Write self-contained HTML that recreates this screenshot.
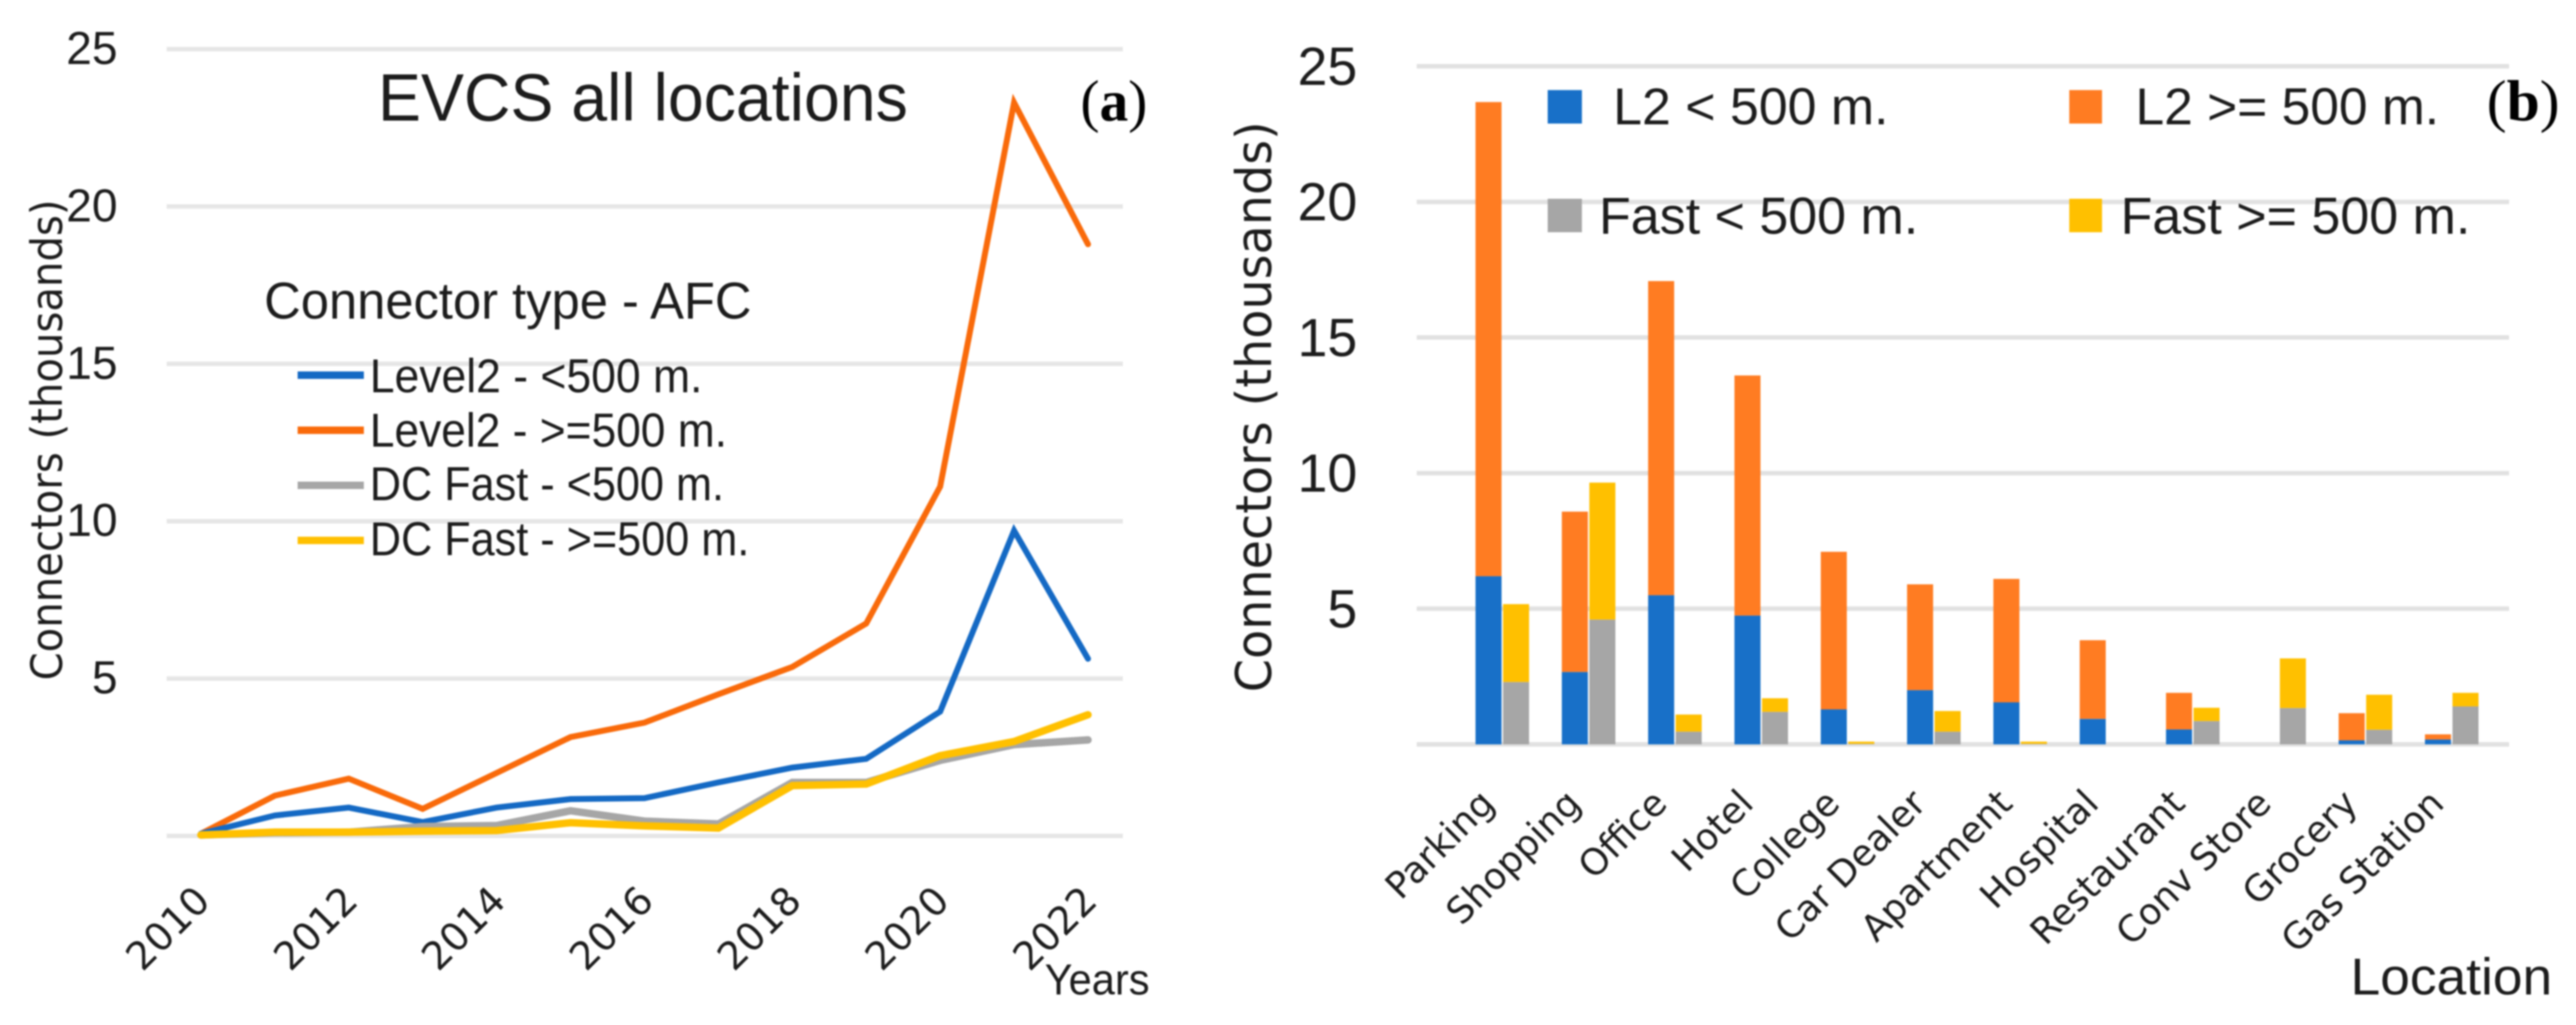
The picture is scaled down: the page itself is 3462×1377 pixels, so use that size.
<!DOCTYPE html>
<html lang="en">
<head>
<meta charset="utf-8">
<title>EVCS connectors charts</title>
<style>
html,body{margin:0;padding:0;background:#fff;width:3462px;height:1377px;overflow:hidden}
svg{display:block;filter:blur(1.1px)}
text{fill:#1c1c1c}
.s{font-family:"Liberation Sans",sans-serif}
.d{font-family:"DejaVu Sans",sans-serif}
.r{font-family:"Liberation Serif",serif;fill:#000}
</style>
</head>
<body>
<svg id="chart" xmlns="http://www.w3.org/2000/svg" width="3462" height="1377" viewBox="0 0 3462 1377">
  <rect width="3462" height="1377" fill="#fff"/>
  <g id="panelA"></g>
  <g id="panelB"></g>

  <text class="s" x="508" y="162" font-size="90" textLength="712" lengthAdjust="spacingAndGlyphs">EVCS all locations</text>
  <text class="r" x="1452" y="162" font-size="78" textLength="90" lengthAdjust="spacingAndGlyphs">(<tspan font-weight="bold">a</tspan>)</text>
  <text class="d" transform="translate(83,914) rotate(-90)" font-size="58" textLength="646" lengthAdjust="spacingAndGlyphs">Connectors  (thousands)</text>
  <text class="s" x="1404" y="1336" font-size="58" textLength="141" lengthAdjust="spacingAndGlyphs">Years</text>

  <g>
    <text class="s" x="355" y="428" font-size="70" textLength="655" lengthAdjust="spacingAndGlyphs">Connector type - AFC</text>
    <line x1="400" x2="489" y1="504" y2="504" stroke="#1469c4" stroke-width="10"/>
    <text class="s" x="497" y="527" font-size="64" textLength="447" lengthAdjust="spacingAndGlyphs">Level2 - &lt;500 m.</text>
    <line x1="400" x2="489" y1="578" y2="578" stroke="#f96a0a" stroke-width="10"/>
    <text class="s" x="497" y="600" font-size="64" textLength="480" lengthAdjust="spacingAndGlyphs">Level2 - &gt;=500 m.</text>
    <line x1="400" x2="489" y1="652" y2="652" stroke="#a6a6a6" stroke-width="10"/>
    <text class="s" x="497" y="672" font-size="64" textLength="476" lengthAdjust="spacingAndGlyphs">DC Fast - &lt;500 m.</text>
    <line x1="400" x2="489" y1="726" y2="726" stroke="#ffc000" stroke-width="10"/>
    <text class="s" x="497" y="746" font-size="64" textLength="510" lengthAdjust="spacingAndGlyphs">DC Fast - &gt;=500 m.</text>
  </g>

  <text class="r" x="3342" y="162" font-size="78" textLength="98" lengthAdjust="spacingAndGlyphs">(<tspan font-weight="bold">b</tspan>)</text>
  <text class="d" transform="translate(1708,930) rotate(-90)" font-size="66" textLength="767" lengthAdjust="spacingAndGlyphs">Connectors  (thousands)</text>
  <text class="s" x="3159" y="1336" font-size="70" textLength="271" lengthAdjust="spacingAndGlyphs">Location</text>

  <g>
    <rect x="2080" y="121" width="46" height="45" fill="#1870c8"/>
    <text class="s" x="2168" y="167" font-size="70" textLength="370" lengthAdjust="spacingAndGlyphs">L2 &lt; 500 m.</text>
    <rect x="2781" y="121" width="44" height="45" fill="#ff7c22"/>
    <text class="s" x="2870" y="167" font-size="70" textLength="408" lengthAdjust="spacingAndGlyphs">L2 &gt;= 500 m.</text>
    <rect x="2080" y="267" width="46" height="45" fill="#a6a6a6"/>
    <text class="s" x="2149" y="314" font-size="70" textLength="429" lengthAdjust="spacingAndGlyphs">Fast &lt; 500 m.</text>
    <rect x="2781" y="267" width="44" height="45" fill="#ffc000"/>
    <text class="s" x="2850" y="314" font-size="70" textLength="470" lengthAdjust="spacingAndGlyphs">Fast &gt;= 500 m.</text>
  </g>
</svg>
<script>
// Panel (a) data
const years = [2010,2011,2012,2013,2014,2015,2016,2017,2018,2019,2020,2021,2022];
const yearTickLabels = ["2010","2012","2014","2016","2018","2020","2022"];
const yTickValues = [0,5,10,15,20,25];
const level2Near = [0.07,0.65,0.9,0.44,0.9,1.17,1.2,1.7,2.17,2.45,3.95,9.7,5.63];
const level2Far = [0.07,1.28,1.82,0.86,2.0,3.14,3.6,4.5,5.37,6.75,11.1,23.3,18.8];
const fastNear = [0.03,0.1,0.12,0.3,0.33,0.8,0.47,0.38,1.7,1.7,2.4,2.9,3.05];
const fastFar = [0.03,0.12,0.12,0.15,0.17,0.42,0.32,0.25,1.6,1.65,2.55,3.0,3.85];

// Panel (b) data
const locations = ["Parking","Shopping","Office","Hotel","College","Car Dealer","Apartment","Hospital","Restaurant","Conv Store","Grocery","Gas Station"];
const l2NearByLocation = [6.2,2.67,5.5,4.75,1.29,2.0,1.55,0.94,0.55,0,0.15,0.18];
const l2FarByLocation = [17.48,5.91,11.58,8.85,5.81,3.9,4.55,2.9,1.35,0,1.0,0.19];
const fastNearByLocation = [2.3,4.6,0.47,1.2,0.02,0.47,0.02,0,0.86,1.34,0.54,1.4];
const fastFarByLocation = [2.87,5.05,0.63,0.5,0.08,0.76,0.08,0,0.49,1.83,1.29,0.5];

const NS = "http://www.w3.org/2000/svg";
function mk(tag, parent, attrs, text){
  const el = document.createElementNS(NS, tag);
  for (const k in attrs) el.setAttribute(k, attrs[k]);
  if (text !== undefined) el.textContent = text;
  parent.appendChild(el);
  return el;
}

// axis functions, panel (a)
const xA = y => 270 + (y - years[0]) * 99.35;
const yA = v => 1123 - v * 42.28;
// axis functions, panel (b)
const groupB = i => 1983 + i * 116;
const yB = v => 1000 - v * 36.44;

const panelA = document.getElementById("panelA");
const panelB = document.getElementById("panelB");

yTickValues.forEach(v => {
  const g = mk("line", panelA, {x1:224, x2:1509, y1:yA(v), y2:yA(v), stroke:"#e6e6e6", "stroke-width":6});
  
  
  if (v > 0) {
    const t = mk("text", panelA, {x:158, y:yA(v)+20, "text-anchor":"end", "font-size":62, "class":"s"}, String(v));
    
    
  }
  const g2 = mk("line", panelB, {x1:1904, x2:3372, y1:yB(v), y2:yB(v), stroke:"#e1e1e1", "stroke-width":6});
  
  
  if (v > 0) {
    const t2 = mk("text", panelB, {x:1824, y:yB(v)+25, "text-anchor":"end", "font-size":72, "class":"s"}, String(v));
    
    
  }
});

yearTickLabels.forEach(lbl => {
  const bx = xA(+lbl) + 15;
  const t = mk("text", panelA, {transform:`translate(${bx},1213) rotate(-45)`, "text-anchor":"end", "font-size":52, "class":"d"}, lbl);
  
  
});

function linePath(values, color, name, w){
  const pts = values.map((v,i) => xA(years[i]) + "," + yA(v)).join(" ");
  const p = mk("polyline", panelA, {points:pts, fill:"none", stroke:color, "stroke-width":w, "stroke-linejoin":"miter", "stroke-linecap":"round"});
  
  
}
linePath(level2Far, "#f96a0a", "line-level2-far", 8);
linePath(level2Near, "#1469c4", "line-level2-near", 8);
linePath(fastNear, "#a6a6a6", "line-fast-near", 10);
linePath(fastFar, "#ffc000", "line-fast-far", 10);

function barSeg(x, base, h, color, name){
  if (h <= 0) return;
  const r = mk("rect", panelB, {x:x, y:yB(base+h), width:35, height:yB(base)-yB(base+h), fill:color});
  
  
}
locations.forEach((loc,i) => {
  const x = groupB(i);
  barSeg(x, 0, l2NearByLocation[i], "#1870c8", "bar-l2-near");
  barSeg(x, l2NearByLocation[i], l2FarByLocation[i], "#ff7c22", "bar-l2-far");
  barSeg(x+37, 0, fastNearByLocation[i], "#a6a6a6", "bar-fast-near");
  barSeg(x+37, fastNearByLocation[i], fastFarByLocation[i], "#ffc000", "bar-fast-far");
  const t = mk("text", panelB, {transform:`translate(${x+28},1082) rotate(-45)`, "text-anchor":"end", "font-size":49, "class":"d"}, loc);
  
  
});
</script>
</body>
</html>
